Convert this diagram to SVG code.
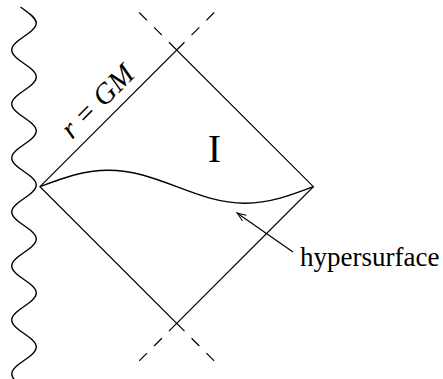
<svg xmlns="http://www.w3.org/2000/svg" width="443" height="379" viewBox="0 0 443 379">
<style>
.ln{stroke:#000;stroke-width:1.2;fill:none}
.dash{stroke:#000;stroke-width:1.2;fill:none;stroke-dasharray:11 10}
.wave{stroke:#000;stroke-width:1.4;fill:none}
.t{font-family:"Liberation Serif","Times New Roman",serif;fill:#000}
</style>
<defs>
<marker id="ah" markerWidth="12" markerHeight="10" refX="0" refY="0" viewBox="-10 -5 12 10" orient="auto" markerUnits="userSpaceOnUse">
<path d="M-9,-3.5 Q-3,-0.8 0,0 Q-3,0.8 -9,3.5" fill="none" stroke="#000" stroke-width="1"/>
</marker>
</defs>
<rect width="443" height="379" fill="#fff"/>
<g id="singularity">
<path class="wave" d="M20.5,7 C27.8,12.3 36.25,17.7 36.25,23 C36.25,32.8 11.75,40.2 11.75,50 C11.75,59.8 36.25,67.2 36.25,77 C36.25,86.8 11.75,94.2 11.75,104 C11.75,113.8 36.25,121.2 36.25,131 C36.25,140.8 11.75,148.2 11.75,158 C11.75,167.8 36.25,175.2 36.25,185 C36.25,194.8 11.75,202.2 11.75,212 C11.75,221.8 36.25,229.2 36.25,239 C36.25,248.8 11.75,256.2 11.75,266 C11.75,275.8 36.25,283.2 36.25,293 C36.25,302.8 11.75,310.2 11.75,320 C11.75,329.8 36.25,337.2 36.25,347 C36.25,356.8 11.75,364.2 11.75,374 C11.75,383.8 36.25,391.2 36.25,401"/>
</g>
<g id="diamond">
<path class="ln" d="M40,186.7 L176.7,50 L313.4,186.7 L176.7,323.4 Z"/>
<path class="dash" d="M176.7,50 L137.8,11.1 M176.7,50 L215.6,11.1 M176.7,323.4 L137.8,362.3 M176.7,323.4 L215.6,362.3"/>
</g>
<g id="hypersurface-curve">
<path class="wave" d="M40,186.7 C62.3,178.2 83.6,170.2 108.35,170.2 C133.1,170.2 154.4,178.2 176.7,186.7 C199,195.2 220.3,203.2 245.05,203.2 C269.8,203.2 291.1,195.2 313.4,186.7"/>
</g>
<g id="labels">
<text class="t" font-style="italic" font-size="29" text-anchor="middle" transform="translate(104,108) rotate(-45)">r = GM</text>
<text class="t" font-size="40" text-anchor="middle" x="214.5" y="162">I</text>
<text class="t" font-size="27" x="300" y="266">hypersurface</text>
</g>
<g id="connectors">
<line class="ln" x1="293" y1="252" x2="237" y2="213" stroke-width="1" marker-end="url(#ah)"/>
</g>
</svg>
